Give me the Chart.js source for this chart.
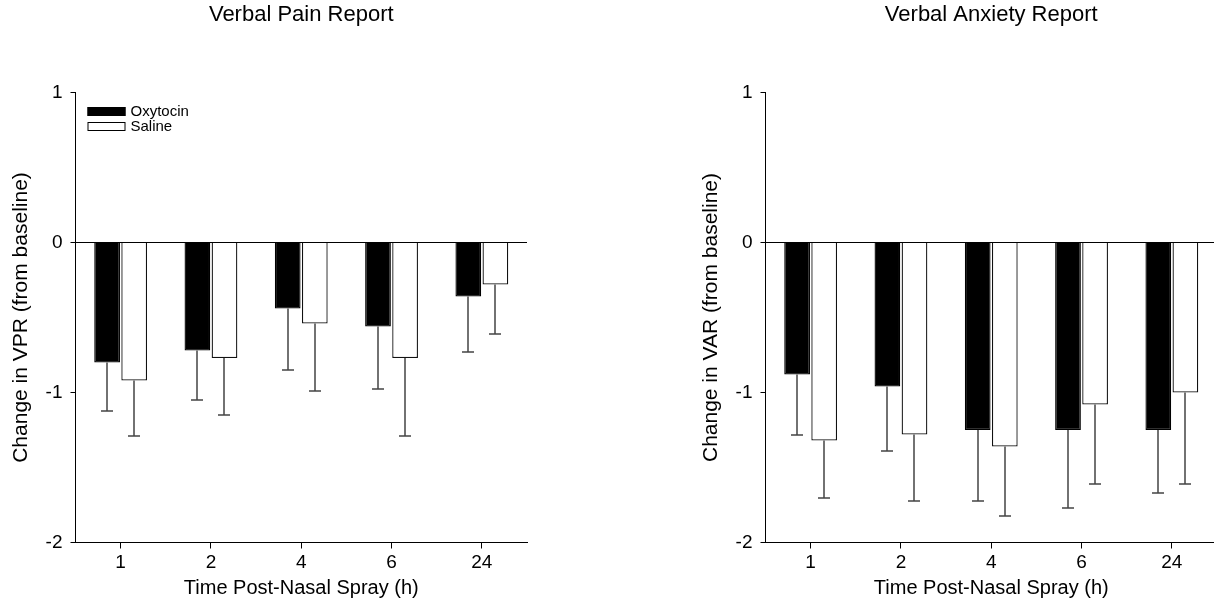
<!DOCTYPE html>
<html>
<head>
<meta charset="utf-8">
<script src="https://cdn.jsdelivr.net/npm/chart.js@4/dist/chart.umd.min.js"></script>
<style>
  html, body { margin: 0; padding: 0; background: #fff; overflow: hidden; width: 1214px; height: 602px; }
  canvas { position: absolute; top: 0; }
  #painChart { left: 0; }
  #anxietyChart { left: 690px; }
</style>
</head>
<body>
<canvas id="painChart" width="560" height="602"></canvas>
<canvas id="anxietyChart" width="560" height="602"></canvas>
<script>
// time points (h)
const timeLabels = ['1', '2', '4', '6', '24'];
const seriesNames = ['Oxytocin', 'Saline'];
const yTicks = [1, 0, -1, -2];

// Verbal pain report, change from baseline (mean and error)
const oxyPain = [-0.80, -0.72, -0.44, -0.56, -0.36];
const oxyPainErr = [0.32, 0.33, 0.41, 0.42, 0.37];
const salPain = [-0.92, -0.77, -0.54, -0.77, -0.28];
const salPainErr = [0.37, 0.38, 0.45, 0.52, 0.33];

// Verbal anxiety report
const oxyAnx = [-0.88, -0.96, -1.25, -1.25, -1.25];
const oxyAnxErr = [0.40, 0.43, 0.47, 0.52, 0.42];
const salAnx = [-1.32, -1.28, -1.36, -1.08, -1.00];
const salAnxErr = [0.38, 0.44, 0.46, 0.53, 0.61];

const FONT = '"Liberation Sans", Arial, sans-serif';
Chart.defaults.font.family = FONT;
Chart.defaults.color = '#000';

// downward error bars, from the bar end to value - err
const errorBars = {
    id: 'errorBars',
    afterDatasetsDraw(chart) {
        const ctx = chart.ctx;
        const y = chart.scales.y;
        ctx.save();
        ctx.strokeStyle = '#444';
        ctx.lineWidth = 1.5;
        chart.data.datasets.forEach((ds, i) => {
            const meta = chart.getDatasetMeta(i);
            meta.data.forEach((bar, j) => {
                const x = Math.round(bar.x);
                const y0 = bar.y;
                const y1 = Math.round(y.getPixelForValue(ds.data[j] - ds.errors[j]));
                ctx.beginPath();
                ctx.moveTo(x, y0);
                ctx.lineTo(x, y1);
                ctx.moveTo(x - 6, y1);
                ctx.lineTo(x + 6, y1);
                ctx.stroke();
            });
        });
        ctx.restore();
    }
};

// title centred over the plot area
const panelTitle = {
    id: 'panelTitle',
    afterDraw(chart, args, opts) {
        const ctx = chart.ctx;
        const a = chart.chartArea;
        ctx.save();
        ctx.font = '22px ' + FONT;
        ctx.fillStyle = '#000';
        ctx.textAlign = 'center';
        ctx.textBaseline = 'middle';
        ctx.fillText(opts.text, (a.left + a.right) / 2, 15);
        ctx.restore();
    }
};

// small legend in the upper left of the plot
const boxLegend = {
    id: 'boxLegend',
    afterDraw(chart, args, opts) {
        if (!opts.show) return;
        const ctx = chart.ctx;
        const a = chart.chartArea;
        ctx.save();
        ctx.font = '15px ' + FONT;
        ctx.textBaseline = 'middle';
        chart.data.datasets.forEach((ds, i) => {
            const bx = a.left + 12, by = 107 + i * 15;
            ctx.fillStyle = ds.backgroundColor;
            ctx.fillRect(bx, by, 38, 9);
            ctx.strokeStyle = '#000';
            ctx.lineWidth = 1;
            ctx.strokeRect(bx + 0.5, by + 0.5, 37, 8);
            ctx.fillStyle = '#000';
            ctx.fillText(ds.label, bx + 43, by + 4.5);
        });
        ctx.restore();
    }
};

function makeChart(id, title, yTitle, oxy, oxyErr, sal, salErr, showLegend) {
    return new Chart(document.getElementById(id), {
        type: 'bar',
        data: {
            labels: timeLabels,
            datasets: [
                { label: seriesNames[0], data: oxy, errors: oxyErr,
                  backgroundColor: '#000', borderColor: '#000', borderWidth: 1.3 },
                { label: seriesNames[1], data: sal, errors: salErr,
                  backgroundColor: '#fff', borderColor: '#111', borderWidth: 1.3 }
            ]
        },
        options: {
            responsive: false,
            animation: false,
            categoryPercentage: 0.6,
            barPercentage: 0.95,
            layout: { padding: { top: 92.5, right: 33, bottom: 0, left: 0 } },
            plugins: {
                legend: { display: false },
                tooltip: { enabled: false },
                panelTitle: { text: title },
                boxLegend: { show: showLegend }
            },
            scales: {
                x: {
                    offset: true,
                    grid: { display: true, offset: false, drawOnChartArea: false, tickLength: 6, color: '#000', tickColor: '#000' },
                    border: { display: true, color: '#000', width: 1 },
                    ticks: { font: { size: 19 }, padding: 3, color: '#000' },
                    title: { display: true, text: 'Time Post-Nasal Spray (h)', font: { size: 20 }, padding: { top: 0, bottom: 2 } },
                    afterFit(s) { s.height = 59.5; }
                },
                y: {
                    min: -2, max: 1,
                    afterBuildTicks(s) { s.ticks = yTicks.map(v => ({ value: v })); },
                    grid: {
                        drawOnChartArea: true, tickLength: 5,
                        color: c => (c.tick && c.tick.value === 0) ? '#000' : 'rgba(0,0,0,0)',
                        tickColor: '#000'
                    },
                    border: { display: true, color: '#000', width: 1 },
                    ticks: { font: { size: 19 }, padding: 8, color: '#000' },
                    title: { display: true, text: yTitle, font: { size: 21 }, padding: { top: 9, bottom: 0 } },
                    afterFit(s) { s.width = 75.5; }
                }
            }
        },
        plugins: [errorBars, panelTitle, boxLegend]
    });
}

makeChart('painChart', 'Verbal Pain Report', 'Change in VPR (from baseline)',
    oxyPain, oxyPainErr, salPain, salPainErr, true);
makeChart('anxietyChart', 'Verbal Anxiety Report', 'Change in VAR (from baseline)',
    oxyAnx, oxyAnxErr, salAnx, salAnxErr, false);
</script>
</body>
</html>
